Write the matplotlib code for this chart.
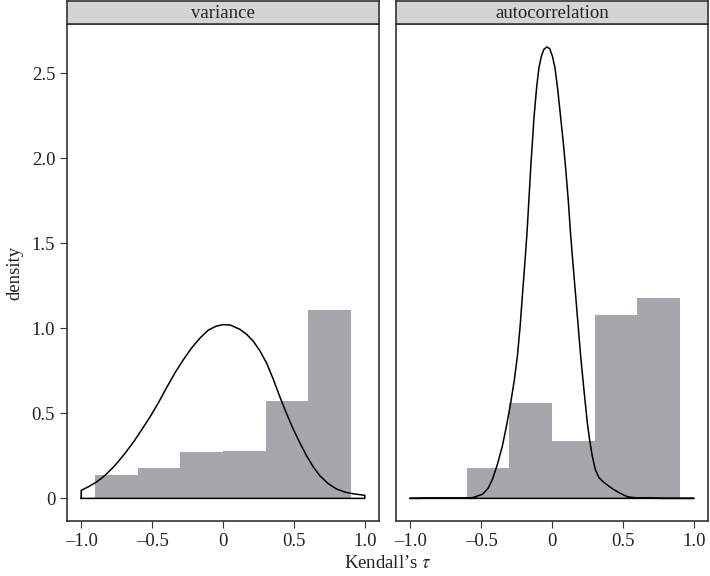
import matplotlib.pyplot as plt

# histogram bins (shared) and heights
bin_edges = [-0.9, -0.6, -0.3, 0.0, 0.3, 0.6, 0.9]
var_heights = [0.14, 0.18, 0.27, 0.28, 0.57, 1.11]
ac_heights = [0.0, 0.18, 0.56, 0.34, 1.08, 1.18]

# density curve for variance
var_x = [-1.0, -0.95, -0.9, -0.86, -0.82, -0.78, -0.74, -0.69, -0.63, -0.573,
         -0.51, -0.455, -0.40, -0.338, -0.28, -0.22, -0.16, -0.103, -0.05, 0.0,
         0.05, 0.12, 0.17, 0.213, 0.26, 0.308, 0.355, 0.401, 0.45, 0.495, 0.54,
         0.589, 0.635, 0.683, 0.74, 0.801, 0.86, 0.918, 1.0]
var_d = [0.047, 0.068, 0.092, 0.116, 0.145, 0.178, 0.215, 0.266, 0.333, 0.404,
         0.485, 0.563, 0.648, 0.739, 0.815, 0.886, 0.945, 0.99, 1.012, 1.022,
         1.02, 0.994, 0.962, 0.925, 0.868, 0.795, 0.70, 0.597, 0.495, 0.408,
         0.33, 0.251, 0.187, 0.133, 0.088, 0.055, 0.037, 0.027, 0.018]

# density curve for autocorrelation
ac_x = [-1.0, -0.9, -0.7, -0.561, -0.49, -0.45, -0.42, -0.385, -0.35, -0.32,
        -0.291, -0.265, -0.244, -0.225, -0.209, -0.19, -0.176, -0.15, -0.127,
        -0.108, -0.092, -0.075, -0.058, -0.037, -0.016, 0.003, 0.021, 0.041,
        0.061, 0.08, 0.096, 0.115, 0.13, 0.148, 0.167, 0.185, 0.202, 0.225,
        0.249, 0.266, 0.284, 0.305, 0.331, 0.365, 0.401, 0.435, 0.472, 0.53,
        0.6, 0.8, 1.0]
ac_d = [0.0, 0.001, 0.002, 0.004, 0.024, 0.06, 0.112, 0.20, 0.308, 0.43,
        0.563, 0.70, 0.837, 1.01, 1.19, 1.40, 1.565, 1.945, 2.24, 2.42,
        2.533, 2.60, 2.64, 2.655, 2.645, 2.60, 2.533, 2.40, 2.24, 2.09,
        1.945, 1.75, 1.565, 1.38, 1.19, 1.01, 0.837, 0.64, 0.445, 0.34,
        0.249, 0.17, 0.122, 0.095, 0.072, 0.052, 0.034, 0.01, 0.002, 0.0, 0.0]

panels = ['variance', 'autocorrelation']
x_ticks = [-1.0, -0.5, 0.0, 0.5, 1.0]
x_labels = ['\u20131.0', '\u20130.5', '0', '0.5', '1.0']
y_ticks = [0, 0.5, 1.0, 1.5, 2.0, 2.5]
y_labels = ['0', '0.5', '1.0', '1.5', '2.0', '2.5']

plt.rcParams['font.family'] = ['Liberation Serif', 'DejaVu Serif']
plt.rcParams['mathtext.fontset'] = 'stix'
fs = 13.5

fig = plt.figure(figsize=(7.1, 5.76), dpi=100)
W, H = 710, 576
edge = '#333333'
txt = '#222222'
bar_col = '#a6a7aa'

lefts = [67, 396]
pw = 312
top, bottom = 24, 521

data = [(var_heights, var_x, var_d), (ac_heights, ac_x, ac_d)]
for i, (name, (heights, cx, cd)) in enumerate(zip(panels, data)):
    ax = fig.add_axes([lefts[i] / W, 1 - bottom / H, pw / W, (bottom - top) / H])
    widths = [bin_edges[k + 1] - bin_edges[k] for k in range(len(heights))]
    ax.bar(bin_edges[:-1], heights, width=widths, align='edge', color=bar_col,
           linewidth=0)
    # closed density outline, ggplot style
    px = [cx[0]] + cx + [cx[-1], cx[0]]
    py = [0] + cd + [0, 0]
    ax.plot(px, py, color='black', lw=1.1, solid_joinstyle='round')
    ax.set_xlim(-1.1, 1.1)
    ax.set_ylim(-0.133, 2.79)
    ax.set_xticks(x_ticks)
    ax.set_xticklabels(x_labels)
    ax.tick_params(direction='out', length=5, color=edge, width=0.8,
                   labelcolor=txt, labelsize=fs)
    if i == 0:
        ax.set_yticks(y_ticks)
        ax.set_yticklabels(y_labels)
        ax.set_ylabel('density', fontsize=fs, color=txt, labelpad=6)
    else:
        ax.set_yticks([])
    for s in ax.spines.values():
        s.set_color(edge)
        s.set_linewidth(1.2)

    # strip on top
    sx = fig.add_axes([lefts[i] / W, 1 - top / H, pw / W, (top - 1) / H])
    sx.set_facecolor('#d4d4d4')
    sx.set_xticks([])
    sx.set_yticks([])
    for s in sx.spines.values():
        s.set_color(edge)
        s.set_linewidth(1.2)
    sx.text(0.5, 0.45, name, ha='center', va='center', fontsize=fs,
            color=txt, transform=sx.transAxes)

fig.text(388 / W, 1 - 563 / H, "Kendall\u2019s $\\tau$", ha='center', va='center',
         fontsize=fs, color=txt)

fig.savefig('out.png', dpi=100)
